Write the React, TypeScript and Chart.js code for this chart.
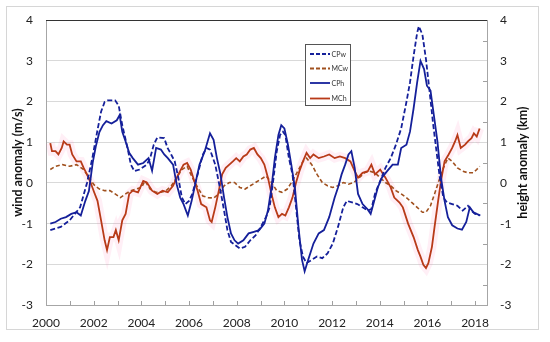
import React, { useEffect, useRef } from 'react';
import { Chart, registerables } from 'chart.js';

Chart.register(...registerables);

// ---- DATA ----
const yearTicks = [2000, 2002, 2004, 2006, 2008, 2010, 2012, 2014, 2016, 2018];
const valueTicks = [-3, -2, -1, 0, 1, 2, 3, 4];
const legendLabels = ['CPw', 'MCw', 'CPh', 'MCh'];

// CPw: wind anomaly (m/s), dashed blue
const cpwYears = [2000.18, 2000.62, 2000.99, 2001.43, 2001.72, 2001.94, 2002.16, 2002.31, 2002.46, 2002.6, 2002.9, 2003.05, 2003.2, 2003.42, 2003.56, 2003.71, 2003.93, 2004.23, 2004.37, 2004.52, 2004.67, 2004.96, 2005.1, 2005.25, 2005.4, 2005.55, 2005.7, 2005.85, 2006.0, 2006.14, 2006.36, 2006.58, 2006.73, 2006.88, 2007.1, 2007.32, 2007.47, 2007.61, 2007.76, 2007.94, 2008.13, 2008.35, 2008.57, 2008.79, 2009.01, 2009.23, 2009.38, 2009.53, 2009.68, 2009.82, 2009.94, 2010.04, 2010.19, 2010.34, 2010.49, 2010.63, 2010.78, 2010.93, 2011.15, 2011.37, 2011.59, 2011.81, 2012.03, 2012.25, 2012.47, 2012.62, 2012.84, 2013.06, 2013.28, 2013.5, 2013.65, 2013.8, 2014.02, 2014.24, 2014.46, 2014.68, 2014.9, 2015.12, 2015.27, 2015.42, 2015.57, 2015.64, 2015.79, 2015.94, 2016.08, 2016.23, 2016.38, 2016.52, 2016.67, 2016.82, 2017.04, 2017.26, 2017.48, 2017.7, 2017.85, 2018.0, 2018.19];
const cpwValues = [-1.16, -1.08, -0.92, -0.6, 0.0, 0.6, 1.3, 1.75, 1.99, 2.03, 2.03, 1.9, 1.42, 0.86, 0.45, 0.29, 0.33, 0.45, 0.61, 0.94, 1.12, 1.1, 0.86, 0.7, 0.53, 0.13, -0.36, -0.52, -0.44, -0.27, 0.21, 0.7, 0.86, 0.82, 0.45, -0.19, -0.68, -1.16, -1.45, -1.53, -1.61, -1.57, -1.41, -1.29, -1.08, -0.84, -0.6, 0.05, 0.78, 1.18, 1.26, 1.18, 0.61, 0.21, -0.6, -1.41, -1.81, -1.97, -1.89, -1.81, -1.85, -1.73, -1.49, -1.08, -0.6, -0.44, -0.48, -0.52, -0.6, -0.68, -0.64, -0.27, 0.05, 0.37, 0.61, 0.94, 1.34, 1.99, 2.47, 3.12, 3.69, 3.85, 3.65, 3.04, 2.31, 1.5, 0.78, 0.13, -0.36, -0.48, -0.52, -0.56, -0.68, -0.56, -0.68, -0.76, -0.8];

// MCw: wind anomaly (m/s), dashed brown
const mcwYears = [2000.18, 2000.4, 2000.69, 2000.99, 2001.28, 2001.58, 2001.8, 2002.02, 2002.24, 2002.46, 2002.68, 2002.9, 2003.12, 2003.34, 2003.56, 2003.78, 2004.01, 2004.15, 2004.37, 2004.6, 2004.82, 2005.04, 2005.26, 2005.48, 2005.7, 2005.92, 2006.14, 2006.36, 2006.58, 2006.8, 2007.03, 2007.25, 2007.47, 2007.69, 2007.91, 2008.13, 2008.35, 2008.57, 2008.79, 2009.01, 2009.23, 2009.46, 2009.68, 2009.9, 2010.12, 2010.34, 2010.56, 2010.78, 2010.93, 2011.15, 2011.37, 2011.59, 2011.81, 2012.03, 2012.25, 2012.47, 2012.69, 2012.92, 2013.14, 2013.36, 2013.58, 2013.8, 2014.02, 2014.24, 2014.46, 2014.68, 2014.9, 2015.12, 2015.34, 2015.57, 2015.79, 2015.94, 2016.13, 2016.3, 2016.48, 2016.67, 2016.86, 2017.04, 2017.26, 2017.48, 2017.7, 2017.92, 2018.07, 2018.19];
const mcwValues = [0.33, 0.41, 0.45, 0.41, 0.45, 0.33, 0.13, -0.05, -0.15, -0.19, -0.19, -0.27, -0.36, -0.27, -0.19, -0.15, -0.11, 0.05, -0.15, -0.23, -0.23, -0.19, -0.07, 0.13, 0.33, 0.41, 0.13, -0.11, -0.32, -0.36, -0.37, -0.27, -0.07, 0.01, 0.01, -0.11, -0.15, -0.07, 0.01, 0.09, 0.17, 0.01, -0.19, -0.23, -0.15, 0.05, 0.29, 0.53, 0.61, 0.45, 0.21, 0.01, -0.07, -0.11, -0.07, 0.01, -0.03, 0.01, 0.13, 0.25, 0.29, 0.25, 0.13, 0.01, -0.07, -0.19, -0.27, -0.36, -0.48, -0.6, -0.72, -0.72, -0.56, -0.27, 0.05, 0.37, 0.61, 0.53, 0.37, 0.29, 0.25, 0.25, 0.33, 0.41];

// CPh: height anomaly (km), solid blue
const cphYears = [2000.18, 2000.4, 2000.62, 2000.84, 2001.06, 2001.28, 2001.46, 2001.65, 2001.8, 2001.96, 2002.09, 2002.24, 2002.39, 2002.53, 2002.75, 2002.97, 2003.09, 2003.2, 2003.34, 2003.49, 2003.64, 2003.86, 2004.08, 2004.3, 2004.45, 2004.62, 2004.82, 2004.96, 2005.11, 2005.33, 2005.48, 2005.63, 2005.77, 2005.95, 2006.11, 2006.29, 2006.44, 2006.66, 2006.88, 2007.03, 2007.17, 2007.32, 2007.47, 2007.61, 2007.76, 2007.91, 2008.06, 2008.28, 2008.5, 2008.72, 2008.94, 2009.16, 2009.31, 2009.46, 2009.6, 2009.75, 2009.87, 2010.0, 2010.15, 2010.29, 2010.44, 2010.59, 2010.74, 2010.85, 2011.0, 2011.22, 2011.44, 2011.66, 2011.88, 2012.11, 2012.25, 2012.4, 2012.55, 2012.69, 2012.81, 2012.95, 2013.09, 2013.28, 2013.48, 2013.62, 2013.77, 2013.92, 2014.09, 2014.31, 2014.54, 2014.76, 2014.9, 2015.12, 2015.27, 2015.42, 2015.57, 2015.71, 2015.86, 2015.98, 2016.13, 2016.27, 2016.42, 2016.57, 2016.72, 2016.86, 2017.04, 2017.26, 2017.45, 2017.63, 2017.78, 2017.93, 2018.07, 2018.22];
const cphValues = [-1.0, -0.96, -0.88, -0.84, -0.76, -0.72, -0.8, -0.44, -0.2, 0.5, 0.9, 1.25, 1.42, 1.52, 1.46, 1.54, 1.67, 1.26, 1.02, 0.74, 0.61, 0.45, 0.49, 0.61, 0.3, 0.86, 0.82, 0.7, 0.61, 0.45, -0.03, -0.36, -0.52, -0.8, -0.44, 0.05, 0.45, 0.78, 1.22, 1.06, 0.61, 0.21, -0.36, -0.84, -1.24, -1.41, -1.49, -1.41, -1.24, -1.2, -1.16, -1.0, -0.68, -0.11, 0.61, 1.18, 1.42, 1.34, 0.94, 0.45, -0.11, -1.08, -1.89, -2.17, -1.89, -1.49, -1.24, -1.16, -0.84, -0.36, -0.11, 0.21, 0.45, 0.7, 0.78, 0.37, -0.27, -0.52, -0.64, -0.76, -0.44, -0.11, 0.13, 0.29, 0.45, 0.45, 0.86, 0.94, 1.26, 1.83, 2.47, 3.0, 2.8, 2.39, 2.27, 1.67, 1.02, 0.13, -0.44, -0.84, -1.04, -1.12, -1.15, -0.96, -0.6, -0.72, -0.76, -0.8];

// MCh: height anomaly (km), solid red-brown
const mchYears = [2000.18, 2000.25, 2000.4, 2000.52, 2000.66, 2000.74, 2000.88, 2000.99, 2001.1, 2001.28, 2001.46, 2001.58, 2001.72, 2001.87, 2002.02, 2002.16, 2002.31, 2002.46, 2002.56, 2002.68, 2002.83, 2002.93, 2003.05, 2003.2, 2003.34, 2003.49, 2003.64, 2003.86, 2004.08, 2004.23, 2004.45, 2004.67, 2004.89, 2005.11, 2005.33, 2005.55, 2005.77, 2005.92, 2006.07, 2006.22, 2006.36, 2006.51, 2006.73, 2006.88, 2006.95, 2007.1, 2007.25, 2007.39, 2007.54, 2007.69, 2007.84, 2007.98, 2008.13, 2008.28, 2008.42, 2008.57, 2008.72, 2008.87, 2009.01, 2009.16, 2009.31, 2009.46, 2009.6, 2009.75, 2009.9, 2010.04, 2010.19, 2010.34, 2010.49, 2010.63, 2010.78, 2010.93, 2011.08, 2011.22, 2011.44, 2011.66, 2011.88, 2012.11, 2012.33, 2012.55, 2012.77, 2012.95, 2013.09, 2013.28, 2013.5, 2013.65, 2013.8, 2014.02, 2014.24, 2014.46, 2014.61, 2014.83, 2014.97, 2015.19, 2015.42, 2015.6, 2015.71, 2015.83, 2015.94, 2016.04, 2016.19, 2016.3, 2016.45, 2016.57, 2016.72, 2016.89, 2017.04, 2017.16, 2017.26, 2017.4, 2017.58, 2017.7, 2017.85, 2017.95, 2018.07, 2018.19];
const mchValues = [0.98, 0.78, 0.78, 0.7, 0.86, 1.02, 0.94, 0.94, 0.7, 0.53, 0.53, 0.37, 0.21, 0.01, -0.23, -0.44, -0.92, -1.41, -1.65, -1.33, -1.33, -1.16, -1.41, -0.92, -0.76, -0.27, -0.19, -0.23, 0.05, 0.01, -0.19, -0.27, -0.19, -0.23, -0.07, 0.21, 0.45, 0.49, 0.33, 0.05, -0.19, -0.52, -0.6, -0.92, -0.96, -0.6, -0.19, 0.21, 0.37, 0.45, 0.53, 0.61, 0.53, 0.65, 0.7, 0.82, 0.86, 0.7, 0.61, 0.45, 0.13, -0.27, -0.6, -0.84, -0.76, -0.8, -0.6, -0.36, 0.01, 0.29, 0.53, 0.74, 0.61, 0.7, 0.61, 0.65, 0.7, 0.61, 0.65, 0.61, 0.53, 0.29, 0.13, 0.25, 0.29, 0.45, 0.21, 0.33, 0.13, -0.11, -0.36, -0.48, -0.6, -1.0, -1.33, -1.65, -1.81, -2.01, -2.09, -1.97, -1.57, -1.08, -0.44, 0.05, 0.53, 0.7, 0.86, 1.02, 1.18, 0.86, 0.94, 1.02, 1.1, 1.22, 1.14, 1.34];

const BLUE = '#15209a';
const MCH_COLOR = '#b83a18';
const MCW_COLOR = '#a0501e';
const FONT = 'Lato, "Open Sans", sans-serif';

export default function App() {
  const ref = useRef<HTMLCanvasElement>(null);

  useEffect(() => {
    const canvas = ref.current;
    if (!canvas) return;
    const pts = (xs: number[], ys: number[]) => xs.map((x, i) => ({ x, y: ys[i] }));

    const decor = {
      id: 'decor',
      beforeDraw(chart: any) {
        const ctx = chart.ctx;
        ctx.save();
        ctx.fillStyle = '#ffffff';
        ctx.fillRect(0, 0, chart.width, chart.height);
        ctx.strokeStyle = '#d6d6d6';
        ctx.lineWidth = 1;
        ctx.strokeRect(6.5, 6.5, 532, 323);
        ctx.restore();
      },
      afterDraw(chart: any) {
        const ctx = chart.ctx;
        const a = chart.chartArea;
        const xs = chart.scales.x;
        const y2 = chart.scales.y2;
        ctx.save();
        // top border
        ctx.strokeStyle = '#333';
        ctx.lineWidth = 1;
        ctx.beginPath();
        ctx.moveTo(a.left, Math.round(a.top) + 0.5);
        ctx.lineTo(a.right, Math.round(a.top) + 0.5);
        ctx.stroke();
        // minor ticks on x axis (each year, inside)
        ctx.strokeStyle = '#a0a0a0';
        ctx.beginPath();
        for (let yr = 2001; yr <= 2018; yr++) {
          const px = Math.round(xs.getPixelForValue(yr)) + 0.5;
          ctx.moveTo(px, a.bottom);
          ctx.lineTo(px, a.bottom - 4);
        }
        // minor ticks on right axis (inside)
        for (let v = -2.5; v < 4; v += 1) {
          const py = Math.round(y2.getPixelForValue(v)) + 0.5;
          ctx.moveTo(a.right, py);
          ctx.lineTo(a.right - 4, py);
        }
        ctx.stroke();
        // right title (reads bottom to top)
        ctx.translate(523, (a.top + a.bottom) / 2);
        ctx.rotate(-Math.PI / 2);
        ctx.fillStyle = '#111';
        ctx.font = `bold 12.5px ${FONT}`;
        ctx.textAlign = 'center';
        ctx.textBaseline = 'middle';
        ctx.fillText('height anomaly (km)', 0, 0);
        ctx.restore();

        // legend
        ctx.save();
        const lx = 305.5, ly = 44.5, lw = 45, lh = 61;
        ctx.fillStyle = '#fff';
        ctx.fillRect(lx, ly, lw, lh);
        ctx.strokeStyle = '#555';
        ctx.lineWidth = 1;
        ctx.strokeRect(lx, ly, lw, lh);
        const rows = [54, 68.5, 83, 98.5];
        const colors = [BLUE, MCW_COLOR, BLUE, MCH_COLOR];
        const dashed = [true, true, false, false];
        ctx.font = `7px ${FONT}`;
        ctx.textBaseline = 'middle';
        ctx.textAlign = 'left';
        legendLabels.forEach((lab, i) => {
          ctx.strokeStyle = colors[i];
          ctx.lineWidth = 1.8;
          ctx.setLineDash(dashed[i] ? [4, 2] : []);
          ctx.beginPath();
          ctx.moveTo(310, rows[i]);
          ctx.lineTo(330, rows[i]);
          ctx.stroke();
          ctx.setLineDash([]);
          ctx.fillStyle = '#333';
          ctx.fillText(lab, 331.5, rows[i] + 0.5);
        });
        ctx.restore();
      },
    };

    const chart = new Chart(canvas, {
      type: 'line',
      data: {
        datasets: [
          {
            label: 'MCh halo',
            data: pts(mchYears, mchValues),
            yAxisID: 'y2',
            borderColor: 'rgba(255, 110, 170, 0.11)',
            borderWidth: 9,
            pointRadius: 0,
            tension: 0,
            order: 10,
          },
          {
            label: 'MCw',
            data: pts(mcwYears, mcwValues),
            yAxisID: 'y',
            borderColor: MCW_COLOR,
            borderWidth: 1.6,
            borderDash: [4, 2.5],
            pointRadius: 0,
            tension: 0,
            order: 4,
          },
          {
            label: 'MCh',
            data: pts(mchYears, mchValues),
            yAxisID: 'y2',
            borderColor: MCH_COLOR,
            borderWidth: 1.8,
            pointRadius: 0,
            tension: 0,
            order: 3,
          },
          {
            label: 'CPw',
            data: pts(cpwYears, cpwValues),
            yAxisID: 'y',
            borderColor: BLUE,
            borderWidth: 1.8,
            borderDash: [5, 2.5],
            pointRadius: 0,
            tension: 0,
            order: 2,
          },
          {
            label: 'CPh',
            data: pts(cphYears, cphValues),
            yAxisID: 'y2',
            borderColor: BLUE,
            borderWidth: 1.8,
            pointRadius: 0,
            tension: 0,
            order: 1,
          },
        ],
      },
      options: {
        responsive: false,
        devicePixelRatio: 1,
        animation: false,
        layout: { padding: { top: 16, left: 0, right: 0, bottom: 0 } },
        plugins: { legend: { display: false }, tooltip: { enabled: false } },
        scales: {
          x: {
            type: 'linear',
            min: 2000,
            max: 2018.5,
            afterFit: (s: any) => { s.height = 37; },
            afterBuildTicks: (s: any) => { s.ticks = yearTicks.map((v) => ({ value: v })); },
            ticks: {
              callback: (v: any) => String(v),
              font: { family: FONT, size: 12 },
              color: '#222',
              padding: 11,
              maxRotation: 0,
              autoSkip: false,
            },
            grid: { drawOnChartArea: false, drawTicks: false },
            border: { display: true, color: '#a6a6a6' },
          },
          y: {
            position: 'left',
            min: -3,
            max: 4,
            afterFit: (s: any) => { s.width = 46; },
            afterBuildTicks: (s: any) => { s.ticks = valueTicks.map((v) => ({ value: v })); },
            ticks: {
              font: { family: FONT, size: 12 },
              color: '#222',
              padding: 13,
            },
            grid: { color: '#d9d9d9', drawTicks: false },
            border: { display: true, color: '#a6a6a6' },
            title: {
              display: true,
              text: 'wind anomaly (m/s)',
              font: { family: FONT, size: 12.5, weight: 'bold' },
              color: '#111',
              padding: { top: 10, bottom: 0 },
            },
          },
          y2: {
            position: 'right',
            min: -3,
            max: 4,
            afterFit: (s: any) => { s.width = 63; },
            afterBuildTicks: (s: any) => { s.ticks = valueTicks.map((v) => ({ value: v })); },
            ticks: {
              font: { family: FONT, size: 12 },
              color: '#222',
              padding: 13,
            },
            grid: { drawOnChartArea: false, drawTicks: false },
            border: { display: true, color: '#a6a6a6' },
          },
        },
      },
      plugins: [decor],
    });
    return () => chart.destroy();
  }, []);

  return (
    <div style={{ position: 'absolute', left: 0, top: 0, width: 550, height: 342, background: '#fff' }}>
      <canvas ref={ref} width={550} height={342} style={{ display: 'block', width: 550, height: 342 }} />
    </div>
  );
}
